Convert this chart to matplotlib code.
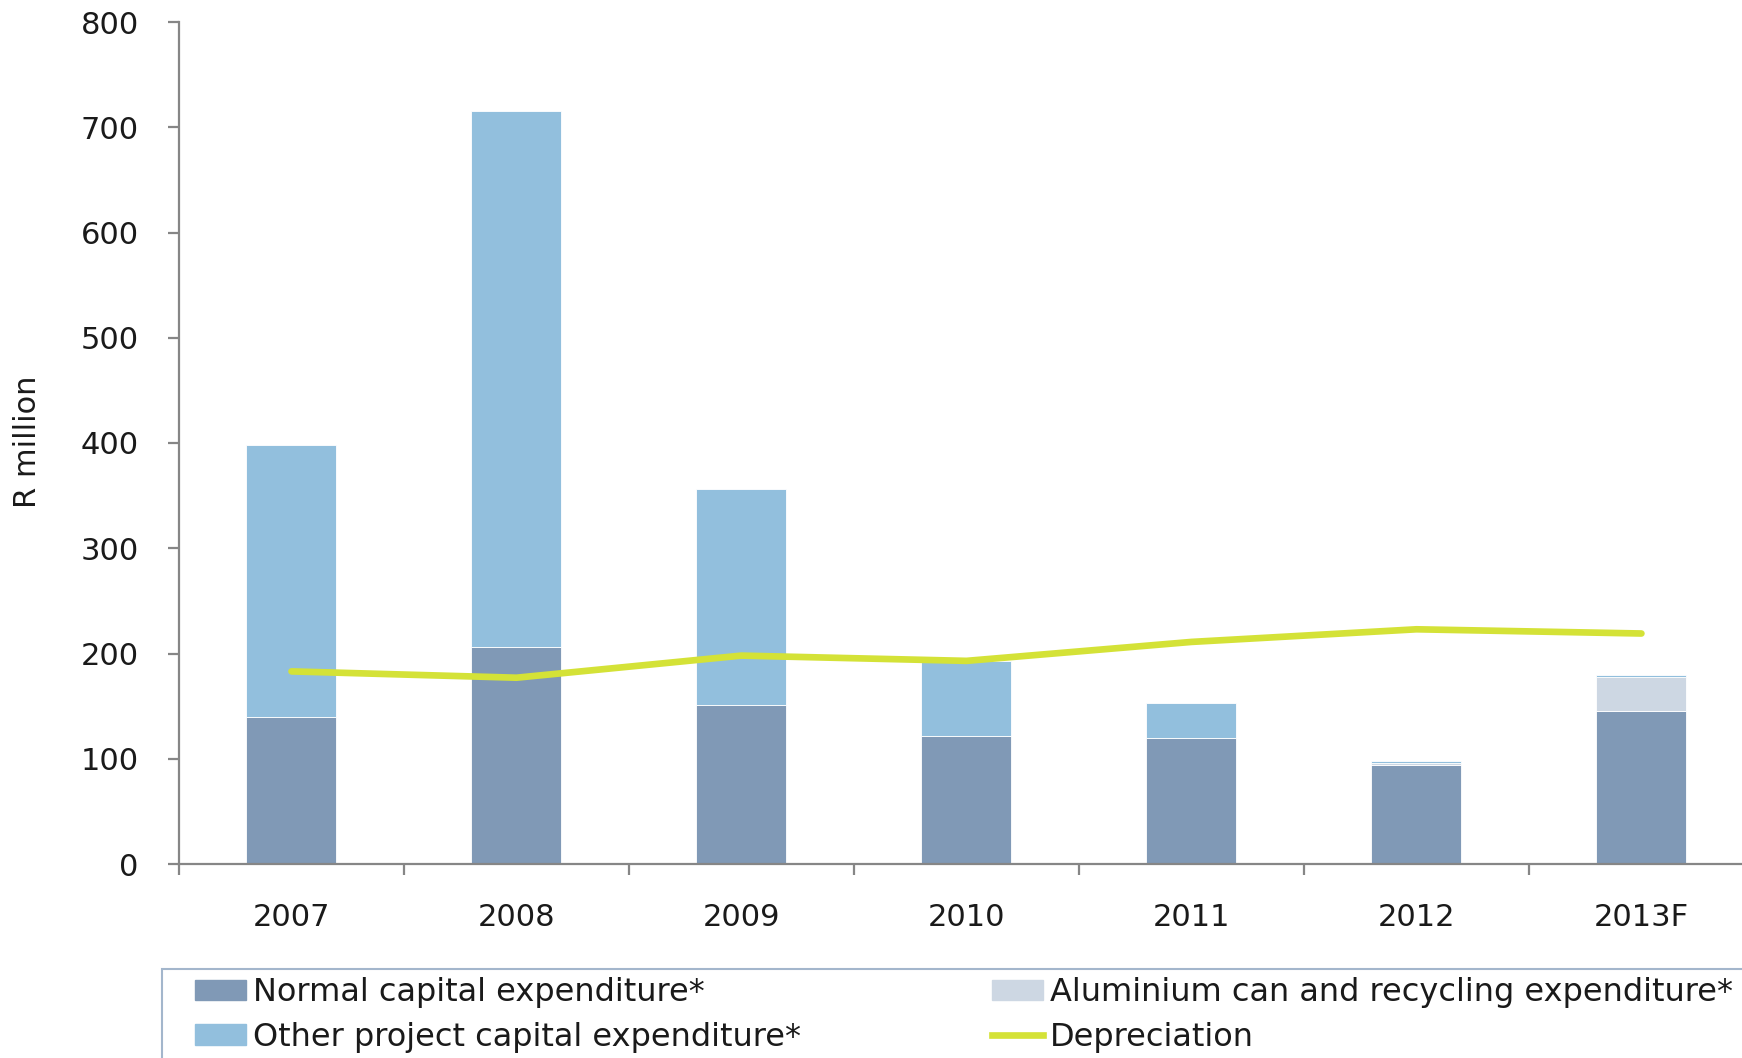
import matplotlib
matplotlib.use("Agg")
import matplotlib.pyplot as plt
from matplotlib.patches import Rectangle, Patch
from matplotlib.lines import Line2D
import numpy as np

years = ['2007', '2008', '2009', '2010', '2011', '2012', '2013F']
normal = [140, 206, 151, 122, 120, 94, 145]
aluminium = [0, 0, 0, 0, 0, 2, 33]
other = [258, 509, 205, 71, 33, 2, 2]
depreciation = [183, 177, 198, 193, 211, 223, 219]

c_normal = '#8099B6'
c_alu = '#CDD7E3'
c_other = '#92BFDD'
c_dep = '#D4E237'
c_axis = '#868686'

plt.rcParams['font.family'] = ['DejaVu Sans']

fig = plt.figure(figsize=(17.42, 10.58), dpi=100)
ax = fig.add_axes([179 / 1742, 1 - 864 / 1058, 1 - 179 / 1742, (864 - 22) / 1058])

x = np.arange(len(years))
w = 0.40
normal = np.array(normal)
aluminium = np.array(aluminium)
other = np.array(other)
ax.bar(x, normal, w, color=c_normal, edgecolor='white', linewidth=0.6, zorder=2)
ax.bar(x, aluminium, w, bottom=normal, color=c_alu, edgecolor='white', linewidth=0.6, zorder=2)
ax.bar(x, other, w, bottom=normal + aluminium, color=c_other, edgecolor='white', linewidth=0.6, zorder=2)
ax.plot(x, depreciation, color=c_dep, linewidth=4.8, solid_capstyle='round', zorder=3)

ax.set_xlim(-0.5, 6.447)
ax.set_ylim(0, 800)
ax.set_yticks(range(0, 801, 100))
ax.set_xticks(x)
ax.set_xticklabels(years)
ax.set_xticks(np.arange(-0.5, 6.0, 1.0), minor=True)
ax.tick_params(axis='x', which='major', length=0, pad=28, labelsize=22, labelcolor='#1a1a1a')
ax.tick_params(axis='x', which='minor', length=8, width=1.6, color=c_axis)
ax.tick_params(axis='y', length=8, width=1.6, color=c_axis, pad=21, labelsize=22, labelcolor='#1a1a1a')

for s in ['top', 'right']:
    ax.spines[s].set_visible(False)
for s in ['left', 'bottom']:
    ax.spines[s].set_color(c_axis)
    ax.spines[s].set_linewidth(1.6)

fig.text(28 / 1742, 1 - 442 / 1058, 'R million', rotation=90, ha='center', va='center',
         fontsize=22, color='#1a1a1a')

# legend box, cut off at the figure edge like the original
fig.patches.append(Rectangle((162 / 1742, -0.05), 1.0, 0.05 + (1058 - 969) / 1058,
                             transform=fig.transFigure, fill=False,
                             edgecolor='#A3B6CC', linewidth=1.5))

leg_kw = dict(frameon=False, fontsize=23, handlelength=1.6, handleheight=0.6,
              handletextpad=0.2, labelspacing=0.43, borderpad=0, borderaxespad=0,
              loc='upper left')
h1 = [Patch(color=c_normal), Patch(color=c_other)]
l1 = ['Normal capital expenditure*', 'Other project capital expenditure*']
h2 = [Patch(color=c_alu), Line2D([0], [0], color=c_dep, linewidth=4.8)]
l2 = ['Aluminium can and recycling expenditure*', 'Depreciation']
leg1 = fig.legend(h1, l1, bbox_to_anchor=(195 / 1742, 1 - 977 / 1058), **leg_kw)
leg2 = fig.legend(h2, l2, bbox_to_anchor=(992 / 1742, 1 - 977 / 1058), **leg_kw)
for lg in (leg1, leg2):
    for t in lg.get_texts():
        t.set_color('#1a1a1a')

fig.savefig('out.png', dpi=100)
